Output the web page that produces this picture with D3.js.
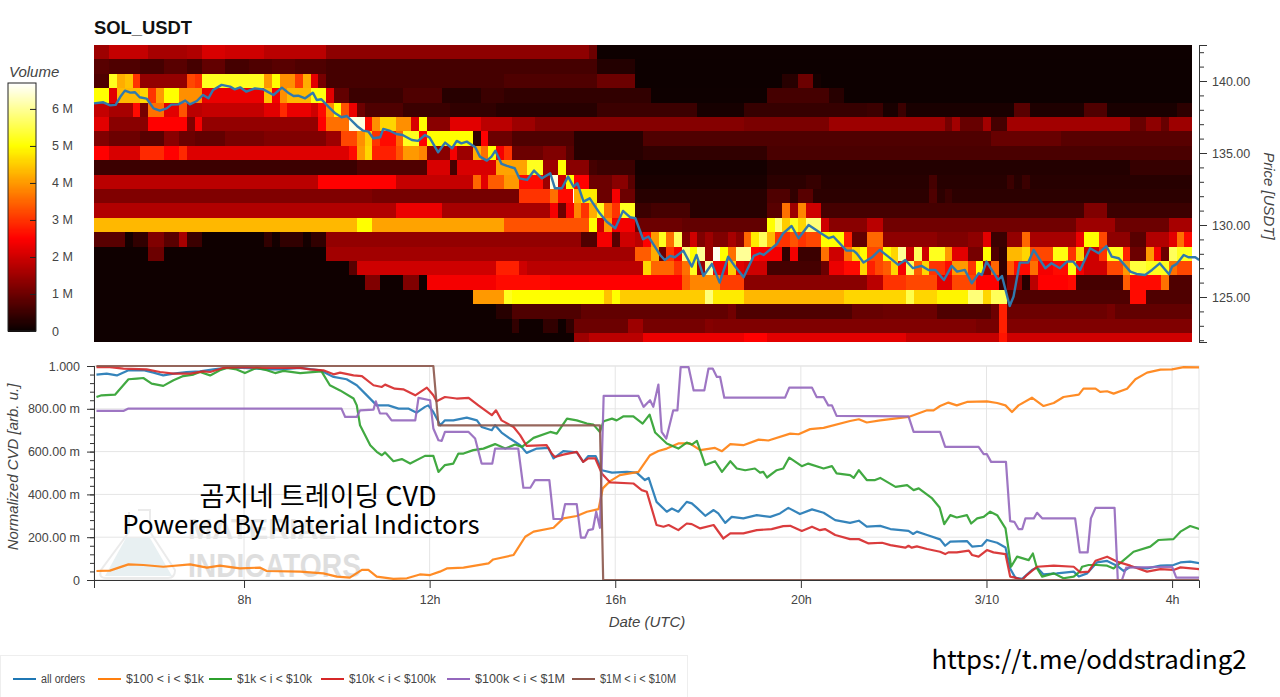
<!DOCTYPE html>
<html>
<head>
<meta charset="utf-8">
<script src="https://cdn.jsdelivr.net/npm/d3@7"></script>
<style>
	body { margin: 0; background: #fff; }
	svg { display: block; font-family: "Liberation Sans", Arial, sans-serif; }
	.tick text { fill: #444; font-size: 12.5px; }
	.axis-title { fill: #444; font-size: 15px; font-style: italic; }
</style>
</head>
<body>
<div id="chart"></div>
<script>
// ---- heatmap: volume (M) per $1 price bin, 10 minute columns, as [end column, volume] runs
const firstHour = 4.767;
const columnCount = 142;
const priceBins = [142, 141, 140, 139, 138, 137, 136, 135, 134, 133, 132, 131, 130, 129, 128, 127, 126, 125, 124, 123, 122];

const row142 = [2,1.5, 7,1.9, 12,1.6, 14,1.7, 17,2.1, 22,2.0, 30,1.8, 64,1.35, 65,1.0, 142,0.04];
const row141 = [2,.8, 6,.7, 9,.6, 12,.8, 14,.6, 17,.9, 20,.6, 23,.7, 26,.8, 30,.7, 65,.6, 70,.25, 142,.03];
const row140 = [2,.7, 3,5.2, 4,4.2, 5,4.4, 6,3.0, 12,1.4, 13,3.2, 14,3.0, 22,5.2, 23,4.0, 24,5, 26,3.9, 27,3.1, 28,4.2, 29,2.2, 30,1.1, 53,.6, 65,.7, 70,1.0, 89,.03, 91,.3, 93,1.0, 94,.1, 142,.03];
const row139 = [2,5.0, 3,2.2, 6,4.3, 7,4.6, 8,3.0, 9,4.0, 11,5.0, 14,3.9, 22,2.3, 23,4.4, 24,2.4, 25,3.9, 28,4.3, 30,5.1, 31,2.2, 33,.9, 40,.5, 45,.7, 50,.3, 53,.5, 72,.4, 87,.04, 95,.6, 97,.3, 142,.03];
const row138 = [2,1.9, 5,1.6, 6,2.6, 7,1.1, 9,3.6, 11,2.2, 12,3.3, 14,1.8, 22,1.9, 24,2.2, 25,2.9, 28,2.3, 29,2.0, 30,2.6, 31,3.9, 32,5.0, 33,3.3, 34,2.3, 35,1.0, 40,.7, 46,.5, 52,.4, 65,.3, 78,.5, 84,.12, 100,.45, 102,.5, 104,.15, 105,.5, 119,.15, 121,.8, 128,.2, 131,.7, 140,.15, 142,.35];
const row137 = [2,2.2, 7,1.3, 12,2.5, 13,1.2, 14,2.4, 29,1.4, 30,2.5, 33,3.6, 35,6.5, 36,2.6, 37,3.9, 39,4.6, 41,3.9, 42,2.1, 43,5.0, 46,1.3, 50,2.2, 54,1.8, 57,1.5, 84,1.25, 95,1.15, 110,1.5, 111,1.1, 112,1.55, 115,.95, 116,1.55, 118,.6, 134,1.55, 136,.95, 138,1.35, 139,.95, 142,1.5];
const row136 = [2,1.2, 6,1.0, 9,.8, 11,1.3, 13,1.0, 17,.9, 22,1.1, 30,1.2, 32,1.5, 34,3.2, 35,3.9, 36,4.5, 37,3.0, 39,2.6, 40,3.5, 42,5.2, 43,2.5, 49,5.0, 50,.4, 51,2.5, 54,1.0, 62,.7, 71,.3, 116,.7, 125,.95, 142,.8];
const row135 = [2,2.5, 6,2.1, 9,2.9, 11,2.5, 12,2.9, 33,2.15, 34,2.6, 35,4.0, 36,4.6, 39,2.8, 40,3.3, 42,4.0, 43,3.8, 46,1.3, 47,2.4, 49,1.5, 50,4.2, 51,3.6, 52,5.0, 53,2.4, 54,3.0, 58,1.0, 61,1.2, 62,.8, 71,.3, 87,.4, 142,.65];
const row134 = [34,.5, 43,.7, 46,2.1, 47,.6, 52,2.1, 56,4.1, 58,5.2, 60,1.5, 61,5.0, 64,1.3, 65,.6, 70,.5, 87,.1, 134,.25, 142,.45];
const row133 = [29,1.8, 39,2.5, 49,1.9, 50,3.5, 51,2.2, 53,3.4, 55,4, 58,2.6, 59,1.5, 60,6.5, 61,2, 62,5, 64,2.5, 67,1, 69,1.3, 70,.8, 87,.15, 92,.35, 94,.45, 108,.3, 109,.6, 118,.3, 119,.5, 120,.3, 121,.5, 142,.3];
const row132 = [36,1.2, 55,1.1, 59,3.0, 60,3.6, 62,2.6, 63,4.2, 65,4.8, 67,1, 68,2.4, 70,1, 87,.3, 90,.7, 91,.4, 93,.8, 108,.35, 109,.7, 110,.35, 111,.5, 142,.35];
const row131 = [39,1.7, 45,2.3, 59,1.6, 60,2.4, 61,1.0, 62,2.4, 63,3.8, 64,3.0, 65,4.2, 66,5.2, 67,3.6, 68,3.0, 70,5.2, 72,.5, 77,.6, 87,.3, 89,.8, 90,3.6, 91,1.5, 92,3.8, 94,2, 128,.6, 131,1.2, 142,.5];
const row130 = [34,4.3, 36,5, 53,4.1, 64,3.3, 65,5, 66,2, 67,4, 70,2.4, 76,1.0, 87,.9, 88,5, 89,5.8, 90,4.5, 91,5.2, 92,4.6, 94,5.8, 95,2, 100,1.3, 102,1.8, 127,1.05, 132,1.5, 139,1.0, 142,1.6];
const row129 = [4,.8, 5,.1, 7,.4, 9,1.2, 11,.8, 12,1.6, 14,.5, 22,.05, 23,.4, 24,.1, 27,.4, 28,.1, 30,.4, 63,1.4, 65,.7, 67,2.4, 68,.8, 70,2.0, 71,1.8, 72,2.5, 73,4, 74,5.2, 75,3.6, 76,5.6, 77,1.2, 78,2, 79,1.2, 80,1.5, 82,1.2, 83,1.6, 84,1.3, 85,3.5, 86,4.8, 87,5.6, 88,4.3, 90,3, 91,3.3, 92,3.0, 94,3.2, 97,5, 98,2.8, 100,.9, 102,3.5, 109,1.35, 113,1.2, 115,1.35, 116,2.2, 118,.5, 120,1.4, 121,3.5, 127,1.6, 128,2.3, 130,5.0, 131,3.2, 134,1.35, 136,.8, 139,1.7, 140,2.2, 141,3.6, 142,2.6];
const row128 = [7,.05, 9,1.0, 30,.05, 70,1.55, 72,3.4, 73,4.2, 74,1.0, 75,3, 76,2.4, 77,5.8, 78,5, 79,6, 80,1.5, 81,6.6, 82,5, 83,3.6, 85,6, 86,2.5, 89,2.4, 90,.4, 91,2.4, 94,.5, 95,3.6, 97,2, 98,3.6, 99,4.6, 100,5, 102,3.2, 103,5, 104,4.6, 105,6, 106,2, 107,5.6, 108,2, 110,5.2, 111,4, 113,2.2, 115,1.1, 116,5, 117,.7, 118,.4, 120,4.3, 121,4.6, 124,3.2, 126,5.1, 127,3, 128,4.6, 130,2, 131,3, 133,5.2, 134,2.8, 136,1.0, 137,4, 138,2.4, 139,1.0, 140,5.6, 142,5.2];
const row127 = [33,.05, 34,.8, 52,2.0, 55,2.8, 56,2.0, 71,1.8, 72,4.6, 75,3.5, 76,3, 77,3.6, 78,5.2, 79,1.5, 80,6, 82,2.4, 83,4.5, 84,2.2, 87,2.0, 94,.6, 95,1, 97,2.3, 99,2.6, 100,4.6, 101,2.8, 102,3.2, 103,3.4, 104,4.6, 105,2.4, 106,5.6, 107,3.4, 108,4.6, 110,3, 111,2.6, 113,4, 114,3, 115,5, 116,1.5, 117,3.5, 118,.4, 119,3.4, 121,2.6, 122,3.6, 124,2.4, 126,2.6, 127,5.1, 128,2.4, 131,2, 133,3.2, 134,4, 136,5.4, 139,5.2, 140,3.6, 142,3.2];
const row126 = [35,.05, 37,1.2, 40,.05, 42,1.2, 43,.05, 52,2.4, 59,2.6, 76,2.5, 77,3.4, 81,3.8, 84,3.1, 100,1.3, 102,1.8, 105,3, 109,3.2, 111,2.2, 114,3.2, 117,2.5, 118,.5, 120,1.3, 121,.3, 122,1.8, 126,2.5, 127,2.6, 133,.6, 134,3.4, 138,2.6, 139,3.6, 142,.7];
const row125 = [49,.05, 53,4, 54,5.2, 66,5.0, 67,4.4, 68,5, 79,4.5, 80,5.8, 84,4.8, 97,4.3, 99,4.6, 105,4.6, 106,5.5, 109,4.6, 113,4.9, 115,5.8, 116,4.6, 118,5.6, 134,.7, 136,2.6, 142,.7];
const row124 = [52,.05, 54,.3, 63,.7, 82,.9, 83,1.05, 98,.7, 102,.95, 109,1.0, 116,.7, 117,1, 118,2.8, 131,1, 132,1.1, 142,.9];
const row123 = [54,.05, 55,.4, 58,.05, 60,.4, 61,.05, 62,.4, 69,1, 71,1.5, 79,1.1, 80,1.25, 114,1.2, 117,1.1, 118,2.8, 142,1.2];
const row122 = [62,.05, 64,1.5, 71,1.8, 84,2.3, 87,2.5, 105,2.2, 117,1.9, 118,2.7, 142,2.0];

const volumeRows = [row142, row141, row140, row139, row138, row137, row136, row135, row134, row133, row132, row131,
	row130, row129, row128, row127, row126, row125, row124, row123, row122];

// ---- price line: [10 minute column, price]
const priceLine = [
	[0,138.45],[1.2,138.52],[2.1,138.31],[2.8,138.34],[3.4,138.9],[4,139.33],[4.7,139.19],[5.3,139.22],[5.9,138.87],[6.8,138.78],
	[7.7,138.1],[8.5,137.94],[9.4,138.1],[10,138.36],[10.9,138.38],[11.8,138.64],[12.4,138.38],[13.3,138.61],[14.1,139.03],[14.8,138.8],
	[15.4,139.38],[16.5,139.73],[17.6,139.61],[18.2,139.42],[18.9,139.56],[19.7,139.26],[20.8,139.49],[21.9,139.42],[23.2,139.03],[24.3,139.54],
	[25.1,139.19],[25.8,138.96],[26.4,138.98],[27.3,138.8],[28.3,139.19],[28.8,138.68],[29.4,138.73],[30.3,138.22],[31.2,137.76],[32,137.48],
	[32.7,137.57],[34,136.88],[34.8,136.55],[35.5,136.48],[36.1,136.02],[37,136.09],[37.4,136.67],[38.3,136.53],[39.1,136.32],[39.9,136.25],
	[41.1,135.9],[41.9,135.84],[42.8,136.25],[43.4,136.07],[44.5,135.05],[45.4,135.72],[46.3,135.33],[46.9,135.84],[47.5,135.67],[48.2,135.79],
	[49.3,135.4],[49.9,134.75],[50.8,134.47],[51.4,134.75],[51.9,135.16],[52.7,134.24],[53.4,134.1],[54.4,133.94],[55,133.24],[56,133.13],
	[56.9,133.78],[57.9,133.24],[59,133.59],[59.6,132.55],[60.5,132.55],[61.3,133.36],[62,132.66],[62.5,132.9],[63.3,131.62],[64.1,131.85],
	[65.4,130.81],[66.3,130.23],[67.4,129.77],[68.4,130.98],[69.3,130.54],[70,130.47],[71,129.01],[71.7,129.2],[73.2,127.92],[73.8,127.57],
	[74.5,127.85],[75.1,127.76],[76.2,128.22],[77.3,127.11],[77.9,127.92],[78.8,126.46],[79.9,127.3],[80.9,126],[82,127.8],[82.9,127.11],
	[84,126.37],[85.3,127.85],[86.1,128.04],[86.6,127.92],[88.3,128.68],[89.1,129.42],[90.2,129.93],[91.1,129.08],[92.4,130],[93.9,129.47],
	[95,129.08],[95.6,129.2],[97.3,128.22],[98.2,128.22],[98.6,128.04],[99.5,127.39],[100.6,127.76],[101.6,128.27],[102.7,127.8],[104,127.23],
	[104.9,127.57],[105.9,127],[107,127.16],[107.9,126.88],[108.8,126.88],[109.9,126.18],[110.9,127.16],[111.6,126.76],[112.6,126.88],[113.5,125.95],
	[114.4,126.65],[114.8,126.53],[115.4,127.46],[116.5,126.53],[116.9,126.18],[117.4,126.46],[118.4,124.38],[118.9,125.03],[119.7,127.39],[120.8,127.39],
	[121.5,128.27],[123,127],[123.8,127.34],[124.9,127],[125.8,127.46],[126.6,127.46],[127.5,126.88],[128.8,128.38],[129.9,128.04],[130.9,128.54],
	[131.6,127.8],[132.5,127.69],[134,126.76],[134.8,126.6],[135.9,126.53],[136.8,126.88],[137.8,127.34],[139,126.58],[139.4,127.11],[140,127.3],
	[140.9,127.92],[141.5,127.76],[142.4,127.76],[142.9,127.57]
];

// ---- normalized CVD: [hour, value]
const allOrders = [
	[4.82,.96],[5.04,.964],[5.26,.956],[5.51,.98],[5.83,.98],[6.05,.969],[6.26,.956],[6.48,.964],[6.76,.972],[7.05,.975],[7.34,.984],[7.63,.991],[7.99,.991],[8.27,.988],[8.49,.984],[8.78,.984],[9.21,.991],[9.64,.98],[9.93,.949],[10.21,.938],[10.43,.91],[10.61,.871],[10.86,.816],[11.11,.816],[11.33,.801],[11.54,.801],[11.72,.782],[11.9,.809],[11.97,.816],[12.08,.785],[12.23,.723],
	[12.33,.746],[12.51,.746],[12.8,.759],[13.02,.746],[13.12,.715],[13.34,.7],[13.41,.723],[13.55,.689],[13.73,.661],[13.95,.63],[14.09,.594],[14.31,.614],[14.56,.617],[14.67,.568],[14.88,.602],[15.17,.596],[15.31,.552],[15.42,.579],[15.58,.579],[15.71,.513],[15.93,.502],[16.25,.505],[16.46,.502],[16.64,.467],[16.72,.477],[16.89,.365],[17.11,.319],[17.22,.334],[17.36,.319],[17.54,.365],[17.65,.358],[17.76,.337],[17.94,.3],[18.12,.327],[18.22,.311],[18.37,.267],[18.51,.295],[18.76,.288],[19.05,.303],[19.34,.295],[19.55,.311],[19.73,.337],[19.98,.308],[20.24,.33],[20.49,.314],[20.74,.28],[21.06,.267],
	[21.25,.277],[21.42,.249],[21.71,.253],[21.93,.238],[22.32,.23],[22.42,.215],[22.5,.226],[22.72,.21],[23,.19],[23.11,.16],[23.22,.179],[23.58,.182],[23.69,.156],[23.9,.16],[24.01,.187],[24.23,.174],[24.41,.152],[24.51,.054],[24.62,.011],[24.77,.005],[24.98,.047],[25.09,.058],[25.23,.026],[25.52,.031],[25.88,.039],[25.99,.016],[26.17,.031],[26.38,.082],[26.6,.089],[26.81,.067],[26.96,.042],[27.1,.062],[27.46,.054],[27.75,.067],[28.03,.07],[28.18,.082],[28.39,.086],[28.59,.078]
];
const orders100to1k = [
	[4.82,.042],[5.11,.044],[5.51,.073],[5.83,.07],[6.26,.062],[6.84,.073],[7.2,.058],[7.48,.067],[7.91,.054],[8.34,.058],[8.49,.042],[9.21,.039],[9.71,.031],[10,.016],[10.28,.011],[10.54,.047],[10.68,.047],[10.86,.016],[11.22,.005],[11.51,.008],[11.79,.026],[12.01,.023],[12.22,.039],
	[12.37,.054],[12.73,.058],[13.27,.078],[13.37,.096],[13.81,.117],[14.06,.202],[14.24,.226],[14.67,.244],[14.88,.288],[15.17,.299],[15.39,.319],[15.64,.331],[15.73,.428],[15.89,.462],[16.1,.49],[16.5,.505],[16.75,.583],[16.93,.603],[17.11,.614],[17.36,.638],[17.61,.638],[17.83,.607],[18.15,.617],[18.3,.602],[18.48,.635],[18.76,.63],[19.09,.656],[19.3,.652],[19.77,.684],[19.95,.681],[20.2,.705],[20.49,.711],[21.06,.743],
	[21.25,.751],[21.42,.736],[21.71,.746],[22.32,.762],[22.72,.793],[22.86,.793],[23,.813],[23.18,.829],[23.36,.816],[23.58,.832],[24.01,.835],[24.23,.827],[24.41,.816],[24.55,.785],[24.69,.816],[24.98,.852],[25.23,.813],[25.45,.827],[25.66,.855],[25.99,.866],[26.09,.894],[26.35,.894],[26.45,.879],[26.6,.882],[26.74,.871],[27.03,.894],[27.21,.938],[27.46,.969],[27.75,.983],[28,.984],[28.25,.995],[28.59,.994]
];
const orders1kto10k = [
	[4.82,.855],[4.93,.863],[5.22,.866],[5.51,.938],[5.69,.941],[5.83,.944],[6.01,.918],[6.26,.907],[6.48,.933],[6.69,.953],[6.91,.96],[7.05,.972],[7.27,.956],[7.48,.98],[7.63,.991],[7.84,.984],[8.02,.967],[8.27,.991],[8.49,.98],[8.67,.967],[8.85,.977],[9.21,.967],[9.67,.975],[9.85,.91],[10.07,.886],[10.36,.848],[10.43,.816],[10.5,.723],[10.72,.63],[10.86,.599],[10.97,.583],[11.04,.596],[11.22,.555],[11.4,.565],[11.58,.544],[11.9,.58],[12.08,.58],[12.19,.505],
	[12.33,.537],[12.51,.544],[12.62,.591],[12.73,.591],[12.94,.607],[13.16,.614],[13.41,.635],[13.63,.614],[13.84,.633],[13.99,.622],[14.24,.664],[14.6,.692],[14.74,.684],[14.96,.754],[15.17,.746],[15.39,.731],[15.53,.726],[15.67,.692],[15.75,.742],[15.93,.754],[16.03,.746],[16.18,.765],[16.39,.765],[16.59,.731],[16.74,.773],[16.86,.689],[17.11,.638],[17.36,.614],[17.54,.642],[17.65,.633],[17.76,.65],[17.94,.537],[18.15,.555],[18.3,.505],[18.48,.555],[18.62,.521],[18.8,.513],[19.01,.521],[19.12,.502],[19.19,.505],[19.27,.479],[19.48,.513],[19.62,.521],[19.75,.572],[20.02,.532],[20.16,.544],[20.49,.521],[20.67,.532],[20.77,.498],[21.06,.49],
	[21.14,.477],[21.25,.513],[21.42,.467],[21.6,.467],[21.71,.477],[22.04,.435],[22.29,.443],[22.43,.42],[22.54,.428],[22.83,.381],[22.99,.339],[23.09,.261],[23.22,.303],[23.36,.292],[23.58,.303],[23.67,.264],[23.8,.288],[23.94,.295],[24.08,.319],[24.23,.303],[24.41,.241],[24.53,.062],[24.66,.109],[24.91,.093],[25,.124],[25.09,.054],[25.2,.016],[25.45,.031],[25.66,.008],[25.88,.016],[26.01,.039],[26.06,.062],[26.2,.07],[26.38,.07],[26.6,.067],[26.74,.054],[26.92,.086],[27.17,.132],[27.53,.156],[27.71,.187],[28.03,.191],[28.18,.226],[28.39,.252],[28.59,.238]
];
const orders10kto100k = [
	[4.82,.995],[5.11,.995],[5.4,.988],[5.9,.984],[6.19,.972],[6.48,.964],[6.84,.964],[7.12,.975],[7.27,.972],[7.55,.991],[7.99,.995],[8.49,.991],[9.21,.991],[9.42,.984],[9.71,.98],[9.93,.961],[10.07,.969],[10.36,.956],[10.54,.953],[10.79,.91],[10.97,.902],[11.04,.913],[11.25,.894],[11.43,.891],[11.69,.863],[11.94,.899],[12.08,.863],[12.15,.835],
	[12.33,.855],[12.58,.848],[12.84,.851],[13.05,.816],[13.34,.77],[13.43,.793],[13.55,.746],[13.81,.715],[13.95,.677],[14.09,.627],[14.52,.63],[14.63,.591],[14.7,.575],[14.88,.586],[15.17,.599],[15.31,.552],[15.42,.568],[15.57,.568],[15.71,.498],[15.89,.456],[16.39,.451],[16.57,.42],[16.68,.412],[16.89,.257],[17.04,.249],[17.15,.257],[17.36,.233],[17.54,.264],[17.65,.261],[17.83,.241],[18.12,.257],[18.33,.194],[18.48,.218],[18.76,.218],[19.05,.233],[19.37,.238],[19.62,.252],[19.77,.253],[20.02,.229],[20.24,.249],[20.41,.233],[20.52,.238],[20.74,.21],[21.06,.191],
	[21.25,.191],[21.46,.171],[21.75,.174],[21.93,.163],[22.25,.151],[22.32,.16],[22.39,.151],[22.5,.157],[22.72,.145],[23,.132],[23.11,.121],[23.18,.129],[23.36,.129],[23.62,.137],[23.69,.117],[23.83,.109],[24.01,.14],[24.15,.129],[24.41,.121],[24.51,.016],[24.62,.011],[24.77,0],[24.87,.023],[25.09,.062],[25.45,.067],[25.88,.062],[26.02,.036],[26.2,.039],[26.35,.09],[26.6,.109],[26.81,.086],[27.1,.067],[27.46,.039],[27.75,.051],[28.03,.047],[28.18,.059],[28.59,.051]
];
const orders100kto1m = [
	[4.82,.79],[5.4,.79],[5.51,.801],[10.1,.801],[10.18,.762],[10.43,.762],[10.5,.793],[10.79,.796],[10.84,.835],[10.93,.778],[11.07,.778],[11.18,.746],[11.69,.746],[11.76,.851],[12.01,.84],[12.08,.708],[12.19,.653],
	[12.26,.65],[12.33,.692],[12.84,.692],[12.98,.661],[13.12,.544],[13.35,.544],[13.41,.614],[13.91,.614],[14.02,.431],[14.17,.431],[14.27,.467],[14.58,.467],[14.67,.285],[14.85,.285],[14.92,.355],[15.17,.355],[15.26,.198],[15.35,.198],[15.42,.233],[15.52,.238],[15.59,.319],[15.67,.244],[15.75,.86],[16.5,.86],[16.61,.809],[16.75,.84],[16.82,.809],[16.93,.913],[17,.692],[17.1,.661],[17.25,.793],[17.34,.793],[17.41,.995],[17.58,.995],[17.69,.886],[17.92,.886],[18.01,.988],[18.1,.988],[18.19,.949],[18.26,.949],[18.35,.852],[19.66,.852],[19.75,.899],[20.24,.899],[20.34,.855],[20.49,.855],[20.59,.816],[20.67,.816],[20.77,.767],[22.32,.765],
	[22.43,.692],[23,.692],[23.11,.622],[23.83,.622],[23.94,.588],[24.01,.588],[24.1,.552],[24.42,.552],[24.51,.275],[24.6,.272],[24.69,.238],[24.77,.238],[24.84,.288],[25.02,.288],[25.09,.314],[25.2,.288],[25.91,.288],[26.01,.129],[26.18,.129],[26.25,.288],[26.35,.337],[26.76,.337],[26.83,0],[26.92,0],[27.01,.058],[28,.062],[28.09,.011],[28.59,.011]
];
const orders1mto10m = [[4.82,1],[12.08,1],[12.19,.723],[15.67,.723],[15.74,0],[28.59,0]];

const seriesNames = ['all orders', '$100 < i < $1k', '$1k < i < $10k', '$10k < i < $100k', '$100k < i < $1M', '$1M < i < $10M'];
const seriesValues = [allOrders, orders100to1k, orders1kto10k, orders10kto100k, orders100kto1m, orders1mto10m];
const seriesColors = ['#1f77b4', '#ff7f0e', '#2ca02c', '#d62728', '#9467bd', '#8c564b'];

// ---- ticks
const priceTicks = [125, 130, 135, 140];
const priceMinorTicks = d3.range(122, 143);
const volumeTicks = [0, 1, 2, 3, 4, 5, 6];
const volumeLabels = ['0', '1 M', '2 M', '3 M', '4 M', '5 M', '6 M'];
const cvdTicks = [0, .2, .4, .6, .8, 1];
const cvdLabels = ['0', '200.00 m', '400.00 m', '600.00 m', '800.00 m', '1.000'];
const cvdMinorTicks = d3.range(0, 1.001, .04);
const hourTicks = [8, 12, 16, 20, 24, 28];
const hourLabels = ['8h', '12h', '16h', '20h', '3/10', '4h'];

const width = 1280, height = 697;
const plotLeft = 94, plotRight = 1199, heatRight = 1192;
const heatTop = 45, heatBottom = 342;
const cvdTop = 366, cvdBottom = 580;

const svg = d3.select('#chart').append('svg').attr('width', width).attr('height', height);

let x = d3.scaleLinear().domain([firstHour, 28.58]).range([plotLeft, plotRight]);
let yPrice = d3.scaleLinear().domain([121.875, 142.5]).range([heatBottom, heatTop]);
let yVolume = d3.scaleLinear().domain([0, 6.7]).range([331, 83]);
let yCvd = d3.scaleLinear().domain([0, 1]).range([cvdBottom, cvdTop]);

// same stops as the "hot" colormap
let color = d3.scaleLinear().domain([0, 2.5, 5, 6.7]).range(['#0a0000', '#ff0000', '#ffff00', '#ffffff']).clamp(true);
let columnHour = (c) => firstHour + c / 6;

svg.append('text').attr('x', 94).attr('y', 34).attr('font-size', 18.4).attr('font-weight', 'bold').attr('fill', '#111').text('SOL_USDT');

// heatmap cells
let cells = [];
volumeRows.forEach((row, r) => {
	let start = 0;
	for (let i = 0; i < row.length; i += 2) {
		cells.push({ price: priceBins[r], start: start, end: row[i], volume: row[i + 1] });
		start = row[i];
	}
});

svg.append('clipPath').attr('id', 'heat-clip').append('rect')
	.attr('x', plotLeft).attr('y', heatTop).attr('width', heatRight - plotLeft).attr('height', heatBottom - heatTop);

let heat = svg.append('g').attr('clip-path', 'url(#heat-clip)');
heat.selectAll('rect').data(cells).join('rect')
	.attr('x', (d) => x(columnHour(d.start)))
	.attr('width', (d) => x(columnHour(d.end)) - x(columnHour(d.start)))
	.attr('y', (d) => yPrice(d.price + .5))
	.attr('height', (d) => yPrice(d.price - .5) - yPrice(d.price + .5))
	.attr('fill', (d) => color(d.volume))
	.attr('shape-rendering', 'crispEdges');

svg.append('path').datum(priceLine)
	.attr('fill', 'none').attr('stroke', '#3079ad').attr('stroke-width', 2.4).attr('stroke-linejoin', 'round')
	.attr('d', d3.line().x((d) => x(columnHour(d[0]))).y((d) => yPrice(d[1])));

// price axis
let priceAxisMinor = svg.append('g').attr('transform', 'translate(' + plotRight + ',0)')
	.call(d3.axisRight(yPrice).tickValues(priceMinorTicks).tickSize(5).tickFormat(''));
let priceAxis = svg.append('g').attr('transform', 'translate(' + plotRight + ',0)')
	.call(d3.axisRight(yPrice).tickValues(priceTicks).tickSize(8).tickPadding(5).tickFormat(d3.format('.2f')));
priceAxis.selectAll('.domain').attr('stroke', '#333');
priceAxis.selectAll('line').attr('stroke', '#333');
priceAxisMinor.selectAll('line').attr('stroke', '#333');

svg.append('text').attr('class', 'axis-title')
	.attr('transform', 'translate(1264,196) rotate(90)').attr('text-anchor', 'middle').text('Price [USDT]');

// colorbar
svg.append('text').attr('class', 'axis-title').attr('x', 9).attr('y', 77).text('Volume');
svg.append('g').selectAll('rect').data(d3.range(0, 6.7, .03)).join('rect')
	.attr('x', 8).attr('width', 28)
	.attr('y', (d) => yVolume(d + .03)).attr('height', (d) => yVolume(d) - yVolume(d + .03) + .5)
	.attr('fill', (d) => color(d))
	.attr('shape-rendering', 'crispEdges');
svg.append('rect').attr('x', 8).attr('y', 83).attr('width', 28).attr('height', 248)
	.attr('fill', 'none').attr('stroke', '#222');
let volumeAxis = svg.append('g').attr('transform', 'translate(36,0)')
	.call(d3.axisLeft(yVolume).tickValues(volumeTicks).tickSize(6).tickFormat((d, i) => volumeLabels[i]));
volumeAxis.select('.domain').remove();
volumeAxis.selectAll('line').attr('stroke', '#222');
volumeAxis.selectAll('text').attr('x', 16).attr('text-anchor', 'start');

// cvd grid
svg.append('rect').attr('x', plotLeft).attr('y', cvdTop).attr('width', plotRight - plotLeft).attr('height', cvdBottom - cvdTop)
	.attr('fill', 'none').attr('stroke', '#e5e5e5');
svg.append('g').selectAll('line').data(cvdTicks).join('line')
	.attr('x1', plotLeft).attr('x2', plotRight).attr('y1', (d) => yCvd(d)).attr('y2', (d) => yCvd(d)).attr('stroke', '#e5e5e5');
svg.append('g').selectAll('line').data(hourTicks).join('line')
	.attr('x1', (d) => x(d)).attr('x2', (d) => x(d)).attr('y1', cvdTop).attr('y2', cvdBottom).attr('stroke', '#e5e5e5');

// logo watermark baked into the original picture
let mark = svg.append('g');
mark.append('path').attr('d', 'M105,576 L126,538 L150,538 L172,576 Z').attr('fill', '#e8f0f2');
mark.append('path').attr('d', 'M138,510 L150,510 L150,532 L175,570 Q175,578 168,578 L106,578 Q98,578 101,570 L129,532 L129,512')
	.attr('fill', 'none').attr('stroke', '#ebebeb').attr('stroke-width', 2);
mark.append('text').attr('x', 188).attr('y', 539).attr('font-size', 30).attr('font-weight', 'bold').attr('fill', '#e6e6e6')
	.attr('textLength', 148).attr('lengthAdjust', 'spacingAndGlyphs').text('MATERIAL');
mark.append('text').attr('x', 188).attr('y', 577).attr('font-size', 34).attr('font-weight', 'bold').attr('fill', '#dedede')
	.attr('textLength', 173).attr('lengthAdjust', 'spacingAndGlyphs').text('INDICATORS');

// cvd lines
svg.append('clipPath').attr('id', 'cvd-clip').append('rect')
	.attr('x', plotLeft).attr('y', cvdTop - 2).attr('width', plotRight - plotLeft).attr('height', cvdBottom - cvdTop + 4);
svg.append('g').attr('clip-path', 'url(#cvd-clip)').selectAll('path').data(seriesValues).join('path')
	.attr('fill', 'none')
	.attr('stroke', (d, i) => seriesColors[i])
	.attr('stroke-opacity', .9)
	.attr('stroke-width', 2.2)
	.attr('stroke-linejoin', 'round')
	.attr('d', d3.line().x((d) => x(d[0])).y((d) => yCvd(d[1])));

// cvd axes
let cvdAxisMinor = svg.append('g').attr('transform', 'translate(' + plotLeft + ',0)')
	.call(d3.axisLeft(yCvd).tickValues(cvdMinorTicks).tickSize(4).tickFormat(''));
let cvdAxis = svg.append('g').attr('transform', 'translate(' + plotLeft + ',0)')
	.call(d3.axisLeft(yCvd).tickValues(cvdTicks).tickSize(7).tickPadding(7).tickFormat((d, i) => cvdLabels[i]));
let hourAxis = svg.append('g').attr('transform', 'translate(0,' + cvdBottom + ')')
	.call(d3.axisBottom(x).tickValues(hourTicks).tickSize(8).tickPadding(7).tickFormat((d, i) => hourLabels[i]));
[ cvdAxisMinor, cvdAxis, hourAxis ].forEach((a) => {
	a.selectAll('.domain').attr('stroke', '#333');
	a.selectAll('line').attr('stroke', '#333');
});

svg.append('text').attr('class', 'axis-title').attr('x', 647).attr('y', 627).attr('text-anchor', 'middle').text('Date (UTC)');
svg.append('text').attr('class', 'axis-title')
	.attr('transform', 'translate(18,467) rotate(-90)').attr('text-anchor', 'middle').text('Normalized CVD [arb. u.]');

// overlay captions
let caption = svg.append('g').attr('font-family', '"Noto Sans CJK KR", "Noto Sans", sans-serif').attr('fill', '#000');
caption.append('text').attr('x', 318).attr('y', 506).attr('text-anchor', 'middle').attr('font-size', 27).text('곰지네 트레이딩 CVD');
caption.append('text').attr('x', 301).attr('y', 534).attr('text-anchor', 'middle').attr('font-size', 25.8).text('Powered By Material Indictors');
caption.append('text').attr('x', 1089).attr('y', 669).attr('text-anchor', 'middle').attr('font-size', 25.8).text('https://t.me/oddstrading2');

// legend
svg.append('rect').attr('x', .5).attr('y', 655.5).attr('width', 687).attr('height', 42).attr('fill', '#fff').attr('stroke', '#eee');
const legendStart = [13, 98, 209, 321, 447, 572];
const legendTextWidth = [44, 78, 75, 87, 90, 76];
let legend = svg.append('g').selectAll('g').data(seriesNames).join('g')
	.attr('transform', (d, i) => 'translate(' + legendStart[i] + ',679)');
legend.append('line').attr('x1', 0).attr('x2', 23)
	.attr('stroke', (d, i) => seriesColors[i]).attr('stroke-width', 2);
legend.append('text').attr('x', 28).attr('y', 4).attr('font-size', 12).attr('fill', '#444')
	.attr('textLength', (d, i) => legendTextWidth[i]).attr('lengthAdjust', 'spacingAndGlyphs').text((d) => d);
</script>
</body>
</html>
